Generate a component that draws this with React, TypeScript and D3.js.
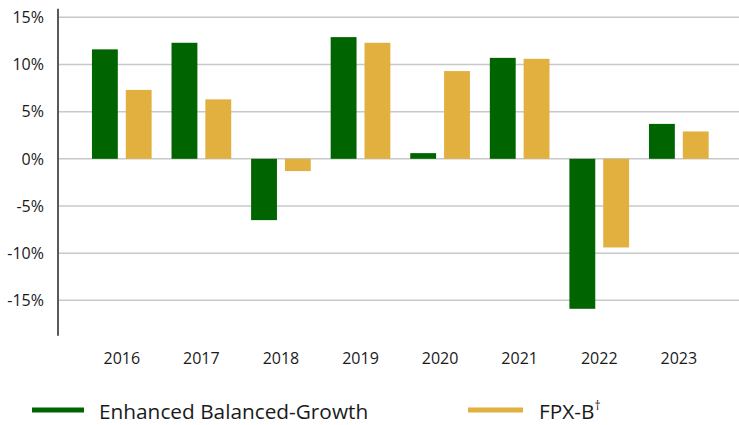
import React from "react";
import * as d3 from "d3";

const years = ["2016", "2017", "2018", "2019", "2020", "2021", "2022", "2023"];
const enhanced = [11.6, 12.3, -6.5, 12.9, 0.6, 10.7, -15.9, 3.7];
const fpxb = [7.3, 6.3, -1.3, 12.3, 9.3, 10.6, -9.4, 2.9];
const yTicks = [15, 10, 5, 0, -5, -10, -15];
const seriesNames = ["Enhanced Balanced-Growth", "FPX-B"];
const colors = ["#006400", "#E2B03E"];

const W = 739;
const H = 425;
const FONT = "'Open Sans', sans-serif";

export default function App() {
  const y = d3.scaleLinear().domain([-15, 15]).range([300.3, 17.3]);
  const x = d3
    .scaleBand<string>()
    .domain(years)
    .range([82, 718.6])
    .paddingInner(0.25)
    .paddingOuter(0.125);
  const xs = d3
    .scaleBand<string>()
    .domain(["a", "b"])
    .range([0, x.bandwidth()])
    .paddingInner(8 / 34);
  const axisX = 58;
  const axisTop = y(15.9);
  const axisBottom = y(-18.75);
  const series = [enhanced, fpxb];
  const keys = ["a", "b"];

  return (
    <svg
      width={W}
      height={H}
      style={{ position: "absolute", left: 0, top: 0, background: "#fff" }}
      fontFamily={FONT}
    >
      <rect x={0} y={0} width={W} height={H} fill="#fff" />
      {yTicks.map((t) => (
        <g key={t}>
          <line x1={axisX} x2={W} y1={y(t)} y2={y(t)} stroke="#c8c8c8" strokeWidth={1.5} />
          <text
            x={44}
            y={y(t)}
            dy="0.36em"
            textAnchor="end"
            fontSize={16}
            fill="#1a1a1a"
          >
            {t}%
          </text>
        </g>
      ))}
      {series.map((vals, si) =>
        vals.map((v, i) => {
          const x0 = (x(years[i]) as number) + (xs(keys[si]) as number);
          const y0 = Math.min(y(0), y(v));
          const h = Math.abs(y(v) - y(0));
          return (
            <rect
              key={`${si}-${i}`}
              x={x0}
              y={y0}
              width={xs.bandwidth()}
              height={h}
              fill={colors[si]}
            />
          );
        })
      )}
      <line x1={axisX} x2={axisX} y1={axisTop} y2={axisBottom} stroke="#595959" strokeWidth={2} />
      {years.map((yr) => (
        <text
          key={yr}
          x={(x(yr) as number) + x.bandwidth() / 2}
          y={364}
          textAnchor="middle"
          fontSize={16}
          fill="#1a1a1a"
        >
          {yr}
        </text>
      ))}
      <g>
        <line x1={32} x2={84} y1={410} y2={410} stroke={colors[0]} strokeWidth={5} />
        <text x={99} y={419} fontSize={20.8} fill="#1a1a1a">
          {seriesNames[0]}
        </text>
        <line x1={468} x2={523} y1={410} y2={410} stroke={colors[1]} strokeWidth={5} />
        <text x={539} y={419} fontSize={20.8} fill="#1a1a1a">
          {seriesNames[1]}
          <tspan fontSize={12} dy={-9}>†</tspan>
        </text>
      </g>
    </svg>
  );
}
